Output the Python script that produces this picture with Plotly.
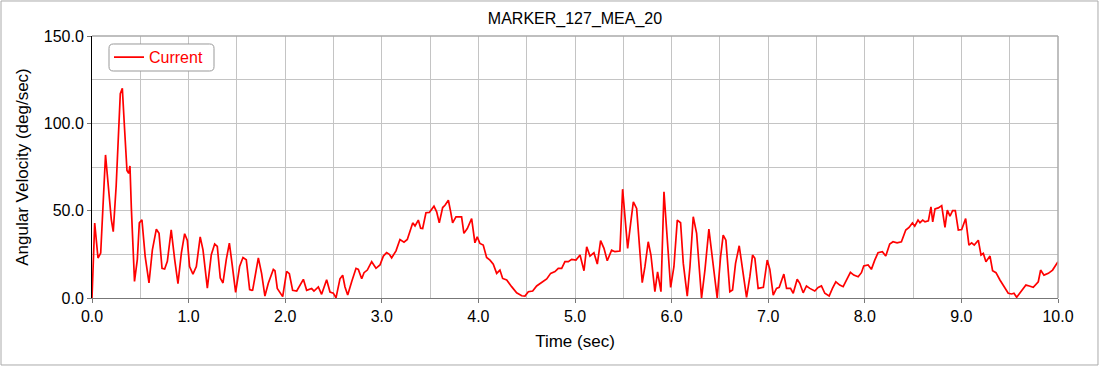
import plotly.graph_objects as go

title_text = "MARKER_127_MEA_20"
series_name = "Current"

time_sec = [
    0.0, 0.028, 0.062, 0.09, 0.14, 0.20, 0.22, 0.25, 0.293, 0.314, 0.338, 0.362, 0.38, 0.393, 0.407,
    0.44, 0.469, 0.49, 0.517, 0.55, 0.59, 0.625, 0.666, 0.694, 0.725, 0.752, 0.78, 0.82, 0.856, 0.89,
    0.925, 0.959, 0.987, 1.01, 1.045, 1.08, 1.12, 1.149, 1.194, 1.235, 1.27, 1.297, 1.328, 1.356, 1.39,
    1.422, 1.449, 1.487, 1.528, 1.563, 1.597, 1.632, 1.656,
    1.663, 1.722, 1.756, 1.79, 1.825, 1.877, 1.894, 1.918, 1.974, 2.015, 2.043, 2.077, 2.119, 2.188,
    2.222, 2.274, 2.298, 2.343, 2.377, 2.429, 2.464, 2.498, 2.526, 2.567, 2.595, 2.619, 2.647, 2.688,
    2.733, 2.757, 2.792, 2.816, 2.85, 2.895, 2.94, 2.981, 3.016, 3.05, 3.078, 3.102, 3.147, 3.188,
    3.23, 3.264, 3.299, 3.32, 3.344, 3.378, 3.402, 3.423, 3.457, 3.492,
    3.54, 3.568, 3.595, 3.63, 3.654, 3.689, 3.713, 3.733, 3.768, 3.802, 3.826, 3.85, 3.885, 3.93,
    3.964, 3.988, 4.016, 4.05, 4.085, 4.12, 4.154, 4.189, 4.223, 4.251, 4.293, 4.344, 4.396, 4.448,
    4.482, 4.517, 4.562, 4.603, 4.655, 4.707, 4.748, 4.793, 4.827, 4.862, 4.896, 4.931, 4.965, 5.01,
    5.052, 5.093, 5.121,
    5.155, 5.196, 5.231, 5.265, 5.3, 5.334, 5.379, 5.413, 5.465, 5.493, 5.517, 5.545, 5.576, 5.604,
    5.638, 5.665, 5.696, 5.724, 5.758, 5.786, 5.827, 5.855, 5.89, 5.921, 5.948, 5.99, 6.024, 6.059,
    6.093, 6.121, 6.162, 6.19, 6.224, 6.259, 6.31, 6.345, 6.386, 6.424, 6.472, 6.507, 6.534, 6.562,
    6.603, 6.631, 6.662, 6.7, 6.734, 6.776, 6.81, 6.838, 6.862, 6.896,
    6.95, 6.99, 7.017, 7.052, 7.086, 7.114, 7.162, 7.19, 7.231, 7.259, 7.3, 7.327, 7.362, 7.396,
    7.431, 7.482, 7.517, 7.551, 7.586, 7.631, 7.665, 7.7, 7.741, 7.776, 7.81, 7.851, 7.886, 7.931,
    7.965, 7.989, 8.034, 8.068, 8.103, 8.137, 8.182, 8.217, 8.258, 8.292, 8.334, 8.379, 8.424, 8.458,
    8.493, 8.517, 8.551,
    8.571, 8.6, 8.623, 8.658, 8.685, 8.703, 8.727, 8.761, 8.796, 8.83, 8.854, 8.882, 8.909, 8.937,
    8.968, 9.003, 9.044, 9.078, 9.106, 9.133, 9.175, 9.203, 9.227, 9.254, 9.296, 9.323, 9.358, 9.399,
    9.451, 9.485, 9.52, 9.544, 9.572, 9.606, 9.668, 9.703, 9.744, 9.796, 9.82, 9.855, 9.9, 9.944, 10.0,
]

angular_velocity = [
    0.0, 42.9, 22.9, 25.7, 81.9, 44.8, 38.0, 64.0, 117.0, 120.0, 96.0, 73.0, 71.4, 75.6, 52.0,
    9.5, 22.0, 43.0, 44.8, 24.0, 8.6, 27.6, 39.4, 37.0, 17.0, 16.6, 21.0, 39.0, 22.0, 8.2,
    25.7, 36.8, 33.0, 18.0, 13.7, 18.0, 35.0, 27.6, 5.7, 24.8, 30.9, 29.5, 11.4, 8.6, 22.0,
    31.4, 20.0, 3.2, 18.0, 23.2, 21.9, 4.8, 4.4,
    4.5, 23.0, 14.0, 1.1, 8.4, 16.4, 15.6, 5.5, 0.8, 15.2, 13.9, 4.4, 4.0, 10.7,
    4.4, 5.4, 4.0, 6.3, 2.1, 10.5, 3.4, 2.8, 0.1, 11.0, 13.0, 6.3, 1.7, 9.3,
    17.0, 16.4, 11.0, 14.5, 16.0, 20.8, 17.0, 18.9, 24.0, 26.0, 25.0, 23.0, 27.0, 33.5,
    32.0, 33.5, 39.8, 43.0, 41.3, 44.6, 40.0, 39.8, 48.8, 49.0,
    52.6, 49.3, 43.0, 51.8, 53.1, 56.0, 49.3, 43.0, 46.5, 46.5, 46.5, 37.0, 39.8, 45.5,
    31.6, 35.0, 31.2, 30.3, 23.2, 21.7, 19.4, 14.1, 16.0, 11.2, 10.3, 6.5, 3.0, 1.3,
    1.1, 3.6, 4.0, 6.9, 8.8, 10.9, 14.1, 15.1, 17.0, 17.0, 20.8, 20.8, 22.1, 21.7,
    24.6, 15.6, 29.3,
    24.0, 25.9, 19.4, 32.8, 28.4, 21.3, 27.4, 26.5, 26.9, 62.3, 44.6, 28.4, 42.7, 55.1,
    51.3, 33.0, 8.8, 17.9, 32.2, 24.6, 3.6, 15.0, 3.6, 60.8, 37.9, 6.1, 17.9, 44.6,
    43.1, 19.8, 1.1, 17.9, 46.5, 37.0, 0.0, 16.0, 39.4, 21.7, 0.0, 23.6, 36.0, 33.1,
    3.6, 4.6, 19.8, 29.9, 17.9, 0.4, 12.2, 24.6, 22.7, 5.5,
    6.1, 21.7, 16.4, 1.7, 5.5, 6.1, 13.7, 5.5, 5.5, 2.7, 10.7, 8.4, 3.0, 6.9,
    5.5, 4.0, 6.1, 6.9, 2.7, 1.1, 5.5, 9.3, 7.4, 6.5, 10.3, 14.7, 13.1, 12.2,
    14.5, 18.3, 18.9, 16.4, 21.7, 25.9, 26.5, 24.0, 30.9, 32.2, 31.6, 32.2, 38.9, 40.4,
    43.0, 41.1, 44.6,
    43.1, 44.6, 43.6, 44.2, 52.2, 43.6, 51.0, 51.6, 52.9, 40.4, 50.3, 46.9, 50.0, 50.0,
    38.9, 39.2, 45.5, 30.3, 31.6, 30.3, 33.1, 24.6, 25.5, 20.8, 24.0, 15.6, 14.5, 10.3,
    5.5, 2.7, 2.3, 2.7, 0.4, 2.7, 7.4, 6.9, 6.1, 9.3, 16.0, 13.1, 14.1, 16.0, 20.8,
]

x_tick_vals = [0, 1, 2, 3, 4, 5, 6, 7, 8, 9, 10]
x_tick_text = ["0.0", "1.0", "2.0", "3.0", "4.0", "5.0", "6.0", "7.0", "8.0", "9.0", "10.0"]
y_tick_vals = [0, 50, 100, 150]
y_tick_text = ["0.0", "50.0", "100.0", "150.0"]

FONT = "Liberation Sans, Arial, Helvetica, sans-serif"
GRID = "#c4c4c4"

fig = go.Figure()
fig.add_trace(go.Scatter(
    x=time_sec, y=angular_velocity, mode="lines", name=series_name,
    line=dict(color="#ff0000", width=1.7),
))

# rounded legend box (paper coords)
lx0, lx1, ly0, ly1 = 0.0176, 0.1263, 0.8664, 0.9695
rx, ry = 0.0045, 0.0165
legend_box = (
    f"M {lx0+rx},{ly0} L {lx1-rx},{ly0} Q {lx1},{ly0} {lx1},{ly0+ry} "
    f"L {lx1},{ly1-ry} Q {lx1},{ly1} {lx1-rx},{ly1} "
    f"L {lx0+rx},{ly1} Q {lx0},{ly1} {lx0},{ly1-ry} "
    f"L {lx0},{ly0+ry} Q {lx0},{ly0} {lx0+rx},{ly0} Z"
)

fig.update_layout(
    width=1104, height=370,
    margin=dict(l=92, r=46, t=36, b=72),
    paper_bgcolor="white", plot_bgcolor="white",
    font=dict(family=FONT, size=16, color="black"),
    title=dict(text=title_text, xref="paper", x=0.5, xanchor="center", y=0.95, yanchor="middle",
               font=dict(family=FONT, size=16, color="black"), automargin=False),
    showlegend=True,
    legend=dict(x=0.0176, y=0.984, xanchor="left", yanchor="top",
                bgcolor="rgba(0,0,0,0)", borderwidth=0,
                font=dict(family=FONT, size=16, color="#ff0000"),
                itemwidth=30),
    xaxis=dict(
        range=[0, 10], tickvals=x_tick_vals, ticktext=x_tick_text,
        showgrid=True, gridcolor=GRID, gridwidth=1,
        minor=dict(dtick=0.5, showgrid=True, gridcolor=GRID, gridwidth=1),
        showline=True, linecolor="#777777", linewidth=1, mirror=False,
        ticks="outside", ticklen=4, tickcolor="#777777",
        zeroline=False, automargin=False,
        title=dict(text="Time (sec)", font=dict(family=FONT, size=17), standoff=10),
        tickfont=dict(family=FONT, size=16),
    ),
    yaxis=dict(
        range=[0, 150], tickvals=y_tick_vals, ticktext=y_tick_text,
        showgrid=True, gridcolor=GRID, gridwidth=1,
        minor=dict(dtick=25, showgrid=True, gridcolor=GRID, gridwidth=1),
        showline=True, linecolor="black", linewidth=1,
        ticks="outside", ticklen=4, tickcolor="#777777",
        zeroline=False, automargin=False,
        title=dict(text="Angular Velocity (deg/sec)", font=dict(family=FONT, size=17), standoff=10),
        tickfont=dict(family=FONT, size=16),
    ),
    shapes=[
        dict(type="line", xref="paper", yref="paper", x0=0, x1=1, y0=1, y1=1,
             line=dict(color="#aaaaaa", width=1.5)),
        dict(type="line", xref="paper", yref="paper", x0=1, x1=1, y0=0, y1=1,
             line=dict(color="#aaaaaa", width=1.5)),
        dict(type="rect", xref="paper", yref="paper", x0=-0.0942, x1=1.0414, y0=-0.2557, y1=1.1336,
             line=dict(color="#aaaaaa", width=1), fillcolor="rgba(0,0,0,0)", layer="below"),
        dict(type="path", xref="paper", yref="paper", path=legend_box,
             line=dict(color="#999999", width=1), fillcolor="white", layer="above"),
    ],
)

fig.write_html("out.html", config={"displayModeBar": False},
               post_script="document.body.style.margin='0px';")
